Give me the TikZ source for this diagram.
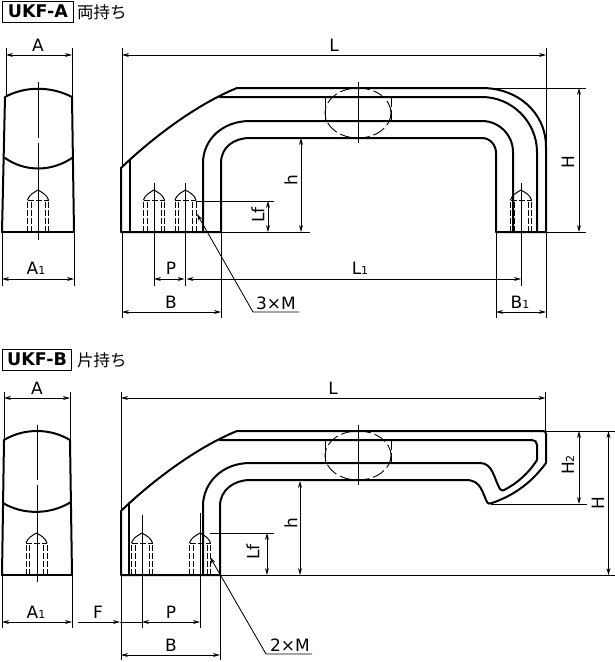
\documentclass[tikz,border=0pt]{standalone}
\usepackage{fontspec}
\setmainfont{DejaVu Sans}
\newfontfamily\jpfont{Noto Sans CJK JP}
\usetikzlibrary{arrows.meta, positioning}
\newcommand{\lowidx}[1]{{\fontsize{11}{11}\selectfont #1}}
\tikzset{
    partline/.style={line width=2pt, line join=round, line cap=round},
    thinline/.style={line width=0.85pt},
    dimline/.style={thinline, {Stealth[length=7pt, width=4pt]}-{Stealth[length=7pt, width=4pt]}},
    dimright/.style={thinline, -{Stealth[length=7pt, width=4pt]}},
    dimleft/.style={thinline, {Stealth[length=7pt, width=4pt]}-},
    holeline/.style={line width=1pt, dash pattern=on 6pt off 2pt},
    gripline/.style={line width=0.9pt, dash pattern=on 13pt off 4pt},
    dimlabel/.style={font=\fontsize{17}{17}\selectfont, inner sep=0pt},
    tagbox/.style={draw, line width=0.9pt, font=\bfseries\fontsize{17.5}{17.5}\selectfont, inner sep=0pt, minimum height=21pt, anchor=west},
    taglabel/.style={font=\jpfont\fontsize{16.5}{16.5}\selectfont, inner sep=0pt, anchor=west},
    bolthole/.pic={
        \draw[holeline] (-10.5,0) -- (-10.5,-32) (10.5,0) -- (10.5,-32) (-7,0) -- (-7,-32) (7,0) -- (7,-32);
        \draw[holeline] (-10.5,-32) -- (10.5,-32);
        \draw[line width=1pt] (-10.5,-32) .. controls (-9,-37) and (-5,-39) .. (0,-42) .. controls (5,-39) and (9,-37) .. (10.5,-32);
    }
}

\begin{document}
\begin{tikzpicture}[x=1pt, y=-1pt]
    \useasboundingbox (0,0) rectangle (615,662);

    % UKF-A
    \node[tagbox, minimum width=71pt] (tag_a) at (2,11.5) {UKF-A};
    \node[taglabel] (grip_a) at (77,12) {両持ち};

    % UKF-A end view
    \path (38,232) pic {bolthole};
    \draw[partline] (5,97) .. controls (25,86) and (51,86) .. (72,97);
    \draw[partline] (5,158) .. controls (25,172) and (51,172) .. (72,158);
    \draw[partline] (2,232) -- (5,97) (72,97) -- (74,232);
    \draw[partline] (2,232) -- (74,232);
    \draw[thinline] (38,82) -- (38,138) (38,143) -- (38,240);
    \draw[thinline] (6,48) -- (6,97) (72,48) -- (72,97);
    \draw[thinline] (2,232) -- (2,286) (74,232) -- (74,286);
    \draw[dimline] (6,55) -- (72,55);
    \draw[dimline] (2,279) -- (74,279);
    \node[dimlabel] (a_a) at (38,45) {A};
    \node[dimlabel] (a_a1) at (36,268) {A\lowidx{1}};

    % UKF-A side view
    \foreach \px in {154,185.5,521} {\path (\px,232) pic {bolthole};}
    \draw[thinline] (154,183) -- (154,286) (185.5,183) -- (185.5,286) (521,183) -- (521,286);
    \draw[partline] (121,232) -- (121,168) .. controls (150,140) and (195,105) .. (237,88) -- (482,88)
        .. controls (517,88) and (546,112) .. (546,147) -- (546,232) -- (496,232) -- (496,153)
        .. controls (496,145) and (490,138) .. (482,138) -- (250,138)
        .. controls (234,138) and (221,147) .. (221,163) -- (221,232) -- cycle;
    \draw[partline] (220,97) -- (482,97) .. controls (512,97) and (537,122) .. (537,152) -- (537,232);
    \draw[partline] (250,121) -- (482,121) .. controls (499,121) and (513,135) .. (513,152) -- (513,232);
    \draw[partline] (203,232) -- (203,163) .. controls (203,140) and (222,121) .. (250,121);
    \draw[partline] (130,160) -- (130,232);
    \draw[gripline] (358,113) ellipse [x radius=33, y radius=25];
    \draw[gripline, dash pattern=on 10pt off 3pt] (325,97) -- (325,121) (391,97) -- (391,121);
    \draw[thinline] (358,82) -- (358,143);

    \draw[thinline] (122,48) -- (122,168) (546,48) -- (546,232);
    \draw[dimline] (122,55) -- (546,55);
    \node[dimlabel] (l_a) at (334,45) {L};
    \draw[thinline] (482,88) -- (586,88) (546,232) -- (586,232);
    \draw[dimline] (579,88) -- (579,232);
    \node[dimlabel, rotate=90] (big_h_a) at (568,162) {H};
    \draw[thinline] (196,201) -- (274,201) (221,232) -- (310,232);
    \draw[dimline] (268,201) -- (268,232);
    \node[dimlabel, rotate=90] (lf_a) at (258,215) {Lf};
    \draw[dimline] (301,138) -- (301,232);
    \node[dimlabel, rotate=90] (h_a) at (291,180) {h};
    \draw[thinline] (122,232) -- (122,318) (221,232) -- (221,318);
    \draw[thinline] (496,232) -- (496,318) (546,232) -- (546,318);
    \draw[dimline] (154,279) -- (184.5,279);
    \draw[dimline] (186.5,279) -- (521,279);
    \draw[dimline] (122,312) -- (221,312);
    \draw[dimline] (496,312) -- (546,312);
    \node[dimlabel] (p_a) at (171,268) {P};
    \node[dimlabel] (l1_a) at (360,268) {L\lowidx{1}};
    \node[dimlabel] (b_a) at (171,302) {B};
    \node[dimlabel] (b1_a) at (520,302) {B\lowidx{1}};
    \node[dimlabel] (m_a) at (276,303) {3×M};
    \draw[dimleft] (197,214) -- (253,312) -- (299,312);

    % UKF-B
    \node[tagbox, minimum width=69pt] (tag_b) at (2,359.5) {UKF-B};
    \node[taglabel] (grip_b) at (77,360) {片持ち};

    % UKF-B end view
    \path (36.5,575) pic {bolthole};
    \draw[partline] (4,440) .. controls (24,428) and (50,428) .. (70,440);
    \draw[partline] (3,503) .. controls (23,515) and (50,515) .. (71,502);
    \draw[partline] (2,575) -- (4,440) (70,440) -- (72,575);
    \draw[partline] (2,575) -- (72,575);
    \draw[thinline] (37,425) -- (37,480) (37,485) -- (37,582);
    \draw[thinline] (4,392) -- (4,440) (70,392) -- (70,440);
    \draw[thinline] (2,575) -- (2,628) (72,575) -- (72,628);
    \draw[dimline] (4,398) -- (70,398);
    \draw[dimline] (2,622) -- (72,622);
    \node[dimlabel] (a_b) at (37,388) {A};
    \node[dimlabel] (a_b1) at (36,612) {A\lowidx{1}};

    % UKF-B side view
    \foreach \px in {142,200} {\path (\px,575) pic {bolthole};}
    \draw[thinline] (142,515) -- (142,628) (200,513) -- (200,628);
    \draw[partline] (121,575) -- (121,511) .. controls (150,483) and (195,448) .. (237,431) -- (543,431)
        .. controls (545,431) and (546,432) .. (546,434) -- (546,463)
        .. controls (532,482) and (515,495) .. (492,503) .. controls (489,504) and (488,504) .. (487,502)
        .. controls (482,492) and (481,480) .. (466,480) -- (250,480)
        .. controls (234,480) and (220,490) .. (220,506) -- (220,575) -- cycle;
    \draw[partline] (220,440) -- (532,440) .. controls (535,440) and (537,442) .. (537,445) -- (537,460)
        .. controls (528,474) and (517,483) .. (506,489) .. controls (503,491) and (501,491) .. (500,489)
        .. controls (494,479) and (493,463) .. (480,463) -- (250,463)
        .. controls (222,463) and (203,483) .. (203,506) -- (203,575);
    \draw[partline] (129,503) -- (129,575);
    \draw[gripline] (358,455.5) ellipse [x radius=33, y radius=24.5];
    \draw[gripline, dash pattern=on 10pt off 3pt] (325,440) -- (325,463) (391,440) -- (391,463);
    \draw[thinline] (358,425) -- (358,485);

    \draw[thinline] (121,392) -- (121,660) (545.5,392) -- (545.5,431);
    \draw[dimline] (121,398) -- (545.5,398);
    \node[dimlabel] (l_b) at (333,388) {L};
    \draw[thinline] (546,431) -- (615,431) (220,575) -- (615,575);
    \draw[thinline] (491,504) -- (587,504);
    \draw[dimline] (579,431) -- (579,504);
    \draw[dimline] (608.5,431) -- (608.5,575);
    \node[dimlabel, rotate=90] (h2_b) at (568,465) {H\lowidx{2}};
    \node[dimlabel, rotate=90] (big_h_b) at (598,503) {H};
    \draw[thinline] (210,533) -- (274,533);
    \draw[dimline] (267,533) -- (267,575);
    \node[dimlabel, rotate=90] (lf_b) at (253,552) {Lf};
    \draw[dimline] (300,481) -- (300,575);
    \node[dimlabel, rotate=90] (h_b) at (291,523) {h};
    \draw[thinline] (220,575) -- (220,660);
    \draw[dimright] (78,622) -- (120,622);
    \draw[thinline] (120,622) -- (142,622);
    \draw[dimline] (142,622) -- (200,622);
    \draw[dimline] (121,655) -- (220,655);
    \node[dimlabel] (f_b) at (98,612) {F};
    \node[dimlabel] (p_b) at (171,612) {P};
    \node[dimlabel] (b_b) at (171,645) {B};
    \node[dimlabel] (m_b) at (290,645) {2×M};
    \draw[dimleft] (210,557) -- (266,654) -- (312,654);
\end{tikzpicture}
\end{document}
